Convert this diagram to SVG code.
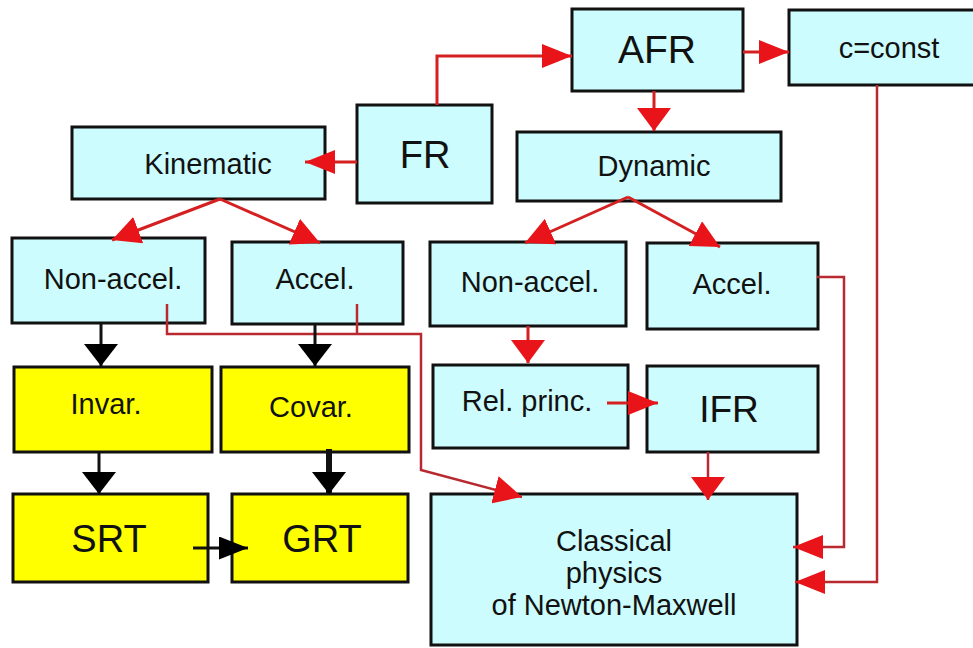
<svg xmlns="http://www.w3.org/2000/svg" width="973" height="648" viewBox="0 0 973 648">
<style>
  .c { fill:#ccfcfd; stroke:#111; stroke-width:3; }
  .y { fill:#ffff00; stroke:#111; stroke-width:3; }
  text { font-family:"Liberation Sans", Arial, sans-serif; fill:#111; text-anchor:middle; }
  .s { font-size:29px; }
  .b { font-size:38px; }
  .r { fill:none; stroke:#d42020; stroke-width:3; }
  .rt { fill:none; stroke:#b82a30; stroke-width:2.5; }
  .k { fill:none; stroke:#111; stroke-width:3; }
</style>
<defs>
  <marker id="rh" markerUnits="userSpaceOnUse" viewBox="0 0 30 24" markerWidth="30" markerHeight="24" refX="30" refY="12" orient="auto"><path d="M0,0 L30,12 L0,24z" fill="#e8141a"/></marker>
  <marker id="rv" markerUnits="userSpaceOnUse" viewBox="0 0 23 34" markerWidth="23" markerHeight="34" refX="23" refY="17" orient="auto"><path d="M0,0 L23,17 L0,34z" fill="#e8141a"/></marker>
  <marker id="rd" markerUnits="userSpaceOnUse" viewBox="0 0 28 28" markerWidth="28" markerHeight="28" refX="28" refY="14" orient="auto"><path d="M0,0 L28,14 L0,28z" fill="#e8141a"/></marker>
  <marker id="bv" markerUnits="userSpaceOnUse" viewBox="0 0 22 34" markerWidth="22" markerHeight="34" refX="22" refY="17" orient="auto"><path d="M0,0 L22,17 L0,34z" fill="#000"/></marker>
  <marker id="bh" markerUnits="userSpaceOnUse" viewBox="0 0 29 23" markerWidth="29" markerHeight="23" refX="29" refY="11.5" orient="auto"><path d="M0,0 L29,11.5 L0,23z" fill="#000"/></marker>
</defs>
<rect width="973" height="648" fill="#fff"/>

<g id="afr"><rect class="c" x="572" y="9" width="171" height="82"/><text class="b" x="657" y="63" style="font-size:39px">AFR</text></g>
<g id="cconst"><rect class="c" x="789" y="10" width="190" height="75"/><text class="s" x="889" y="58">c=const</text></g>
<g id="fr"><rect class="c" x="357" y="105" width="135" height="98"/><text class="b" x="425" y="168">FR</text></g>
<g id="kinematic"><rect class="c" x="72" y="127" width="253" height="72"/><text class="s" x="208" y="174">Kinematic</text></g>
<g id="dynamic"><rect class="c" x="517" y="132" width="264" height="69"/><text class="s" x="654" y="176">Dynamic</text></g>
<g id="nonaccel-k"><rect class="c" x="12" y="238" width="193" height="85"/><text class="s" x="113" y="289">Non-accel.</text></g>
<g id="accel-k"><rect class="c" x="232" y="242" width="171" height="82"/><text class="s" x="315" y="289">Accel.</text></g>
<g id="nonaccel-d"><rect class="c" x="430" y="242" width="196" height="84"/><text class="s" x="530" y="292">Non-accel.</text></g>
<g id="accel-d"><rect class="c" x="647" y="243" width="171" height="86"/><text class="s" x="732" y="294">Accel.</text></g>
<g id="invar"><rect class="y" x="14" y="367" width="198" height="85"/><text class="s" x="106" y="414">Invar.</text></g>
<g id="covar"><rect class="y" x="221" y="367" width="188" height="85"/><text class="s" x="311" y="417">Covar.</text></g>
<g id="relprinc"><rect class="c" x="433" y="365" width="195" height="83"/><text class="s" x="527" y="411">Rel. princ.</text></g>
<g id="ifr"><rect class="c" x="647" y="366" width="171" height="86"/><text class="b" x="729" y="422" style="font-size:37px">IFR</text></g>
<g id="srt"><rect class="y" x="13" y="494" width="195" height="88"/><text class="b" x="109" y="552">SRT</text></g>
<g id="grt"><rect class="y" x="232" y="494" width="176" height="88"/><text class="b" x="322" y="552">GRT</text></g>
<g id="classical"><rect class="c" x="431" y="494" width="366" height="151"/>
  <text class="s" x="614" y="551">Classical</text>
  <text class="s" x="614" y="583">physics</text>
  <text class="s" x="614" y="615">of Newton-Maxwell</text></g>

<g id="connectors">
  <path class="r" d="M437,105 V56 H572" marker-end="url(#rh)"/>
  <path class="r" d="M743,52 H789" marker-end="url(#rh)"/>
  <path class="r" d="M654,91 V131" marker-end="url(#rv)"/>
  <path class="r" d="M357,162 H305" marker-end="url(#rh)"/>
  <path class="r" d="M220,199 L112,240" marker-end="url(#rd)"/>
  <path class="r" d="M220,199 L320,243" marker-end="url(#rd)"/>
  <path class="r" d="M628,197 L525,243" marker-end="url(#rd)"/>
  <path class="r" d="M628,197 L720,247" marker-end="url(#rd)"/>
  <path class="r" d="M528,326 V363" marker-end="url(#rv)"/>
  <path class="r" d="M607,403 H658" marker-end="url(#rh)"/>
  <path class="rt" d="M708,452 V500" marker-end="url(#rv)"/>
  <path class="rt" d="M817,277 H844 V547 H793" marker-end="url(#rh)"/>
  <path class="rt" d="M877,85 V582 H795" marker-end="url(#rh)"/>
  <path class="rt" d="M357,304 V334"/>
  <path class="rt" d="M167,304 V334 H421 V470 L522,497" marker-end="url(#rd)"/>
  <path class="k" d="M101,323 V366" marker-end="url(#bv)"/>
  <path class="k" d="M315,324 V366" marker-end="url(#bv)"/>
  <path class="k" d="M99,452 V494" marker-end="url(#bv)"/>
  <path class="k" d="M329,449 V494" style="stroke-width:6" marker-end="url(#bv)"/>
  <path class="k" d="M193,548 H248" marker-end="url(#bh)"/>
</g>
</svg>
